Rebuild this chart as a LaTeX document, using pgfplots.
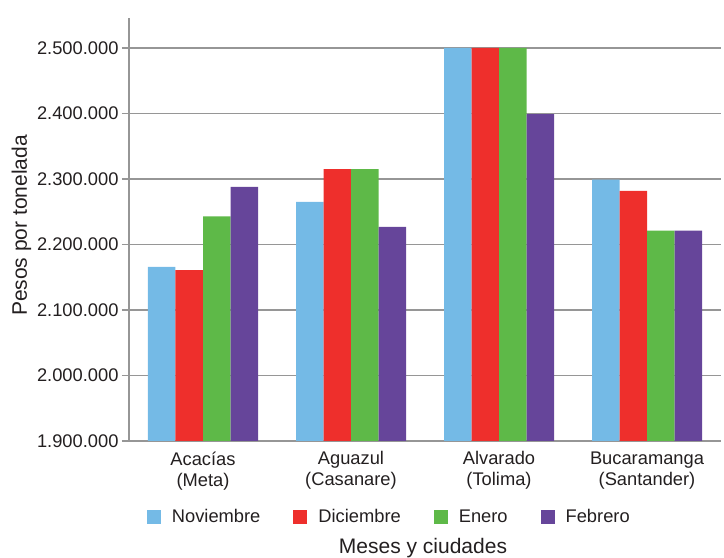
\documentclass[border=0pt]{standalone}
\usepackage{fontspec}
\setmainfont{Liberation Sans}
\usepackage{pgfplots}
\pgfplotsset{compat=1.18}

\definecolor{nov}{RGB}{116,186,230}
\definecolor{dic}{RGB}{238,47,44}
\definecolor{ene}{RGB}{94,185,72}
\definecolor{feb}{RGB}{102,69,154}
\definecolor{gridgray}{RGB}{150,150,150}
\definecolor{txt}{RGB}{35,31,32}

\newcommand{\tickfont}{\fontsize{18.3}{21}\selectfont}
\newcommand{\labfont}{\fontsize{21}{24}\selectfont}

\begin{document}
\begin{tikzpicture}
\begin{axis}[
    name=ax,
    scale only axis,
    width=592pt, height=423pt,
    xmin=-0.5, xmax=3.5,
    ymin=1900000, ymax=2545800,
    ybar=0pt, bar width=27.5pt,
    xtick=data,
    xticklabels={{Acacías\\(Meta)},{Aguazul\\(Casanare)},{Alvarado\\(Tolima)},{Bucaramanga\\(Santander)}},
    xticklabel style={align=center, text=txt, font=\tickfont},
    xtick style={draw=none},
    ytick={1900000,2000000,2100000,2200000,2300000,2400000,2500000},
    scaled y ticks=false,
    yticklabel style={text=txt, font=\tickfont,
        /pgf/number format/.cd, fixed, precision=0, 1000 sep={.}, assume math mode=true},
    axis x line*=bottom, axis y line*=left,
    axis line style={gridgray, line width=1.2pt},
    tick align=outside, major tick length=7pt,
    ytick style={gridgray, line width=1.2pt},
    ymajorgrids, grid style={gridgray, line width=1.2pt},
    ylabel={Pesos por tonelada},
    ylabel style={at={(axis description cs:0,0.5)}, anchor=base, yshift=102pt, xshift=4pt, text=txt, font=\labfont},
    xlabel={Meses y ciudades},
    xlabel style={at={(axis description cs:0.5,0)}, anchor=base, yshift=-112pt, xshift=-2pt, text=txt, font=\labfont},
    legend columns=-1,
    legend image code/.code={\fill[#1] (0pt,-7pt) rectangle (14pt,7pt);},
    legend style={draw=none, fill=none, inner sep=0pt, at={(rel axis cs:0.03,0)}, anchor=west, yshift=-76pt,
        font=\tickfont, text=txt,
        /tikz/every odd column/.append style={column sep=9pt},
        /tikz/every even column/.append style={column sep=31pt}},
]
\addplot[fill=nov, draw=none] coordinates {(0,2166000) (1,2265000) (2,2500000) (3,2299000)};
\addplot[fill=dic, draw=none] coordinates {(0,2161000) (1,2315000) (2,2500000) (3,2282000)};
\addplot[fill=ene, draw=none] coordinates {(0,2243000) (1,2315000) (2,2500000) (3,2221000)};
\addplot[fill=feb, draw=none] coordinates {(0,2288000) (1,2227000) (2,2399000) (3,2221000)};
\legend{Noviembre,Diciembre,Enero,Febrero}
\end{axis}
\pgfresetboundingbox
\useasboundingbox ([shift={(-129pt,-117pt)}]ax.south west) rectangle ([shift={(3pt,18pt)}]ax.north east);
\end{tikzpicture}
\end{document}
